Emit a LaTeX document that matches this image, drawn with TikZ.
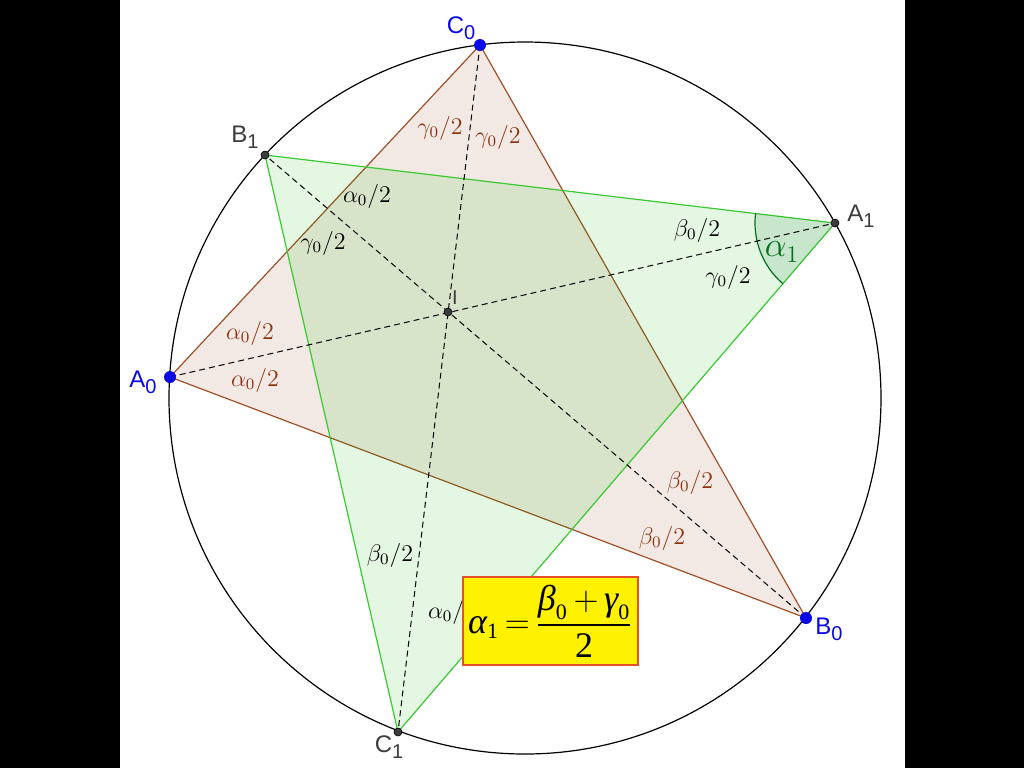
\documentclass[tikz,border=0pt]{standalone}
\usepackage{amsmath}
\usepackage{fontspec}
\setsansfont{Liberation Sans}
\newfontfamily\eqfont{Liberation Serif}
\usepackage{xcolor}
\usepackage{tikz}
\usetikzlibrary{angles}

\definecolor{brownedge}{RGB}{160,80,40}
\definecolor{brownlab}{RGB}{140,50,15}
\definecolor{greenedge}{RGB}{60,200,50}
\definecolor{greenfill}{RGB}{0,190,0}
\definecolor{anglegreen}{RGB}{0,110,30}
\definecolor{ptblue}{RGB}{10,10,230}
\definecolor{ptgray}{RGB}{60,60,60}
\definecolor{boxred}{RGB}{230,80,40}

\tikzset{
  bluept/.style={circle,fill=ptblue,inner sep=0pt,minimum size=6pt},
  graypt/.style={circle,fill=ptgray,draw=black,line width=0.3pt,inner sep=0pt,minimum size=4pt},
  vlab/.style={font=\sffamily\fontsize{12}{14}\selectfont},
  anglab/.style={font=\fontsize{12}{14}\selectfont},
  edge/.style={line width=0.6pt},
  bisector/.style={dash pattern=on 3pt off 2pt,line width=0.5pt},
}
\newcommand{\vsub}[1]{\raisebox{-0.5ex}{\fontsize{10}{12}\selectfont #1}}
\newcommand{\eqit}[1]{\mbox{\eqfont\itshape\fontsize{18}{20}\selectfont #1}}
\newcommand{\eqsub}[1]{\mbox{\eqfont\fontsize{11}{12}\selectfont #1}}

\begin{document}
\begin{tikzpicture}[x=0.5pt,y=-0.5pt]
    \useasboundingbox (0,0) rectangle (1024,768);
    \fill[white] (0,0) rectangle (1024,768);
    \fill[black] (0,0) rectangle (120,768);
    \fill[black] (905,0) rectangle (1024,768);
    % points on the circle
    \coordinate (O) at (525,398);
    \coordinate (A0) at (170,377);
    \coordinate (B0) at (806,618);
    \coordinate (C0) at (480,45);
    \coordinate (A1) at (835,223);
    \coordinate (B1) at (265,155);
    \coordinate (C1) at (398,732);
    \coordinate (I) at (448,312);
    \draw[line width=0.6pt] (O) circle[radius=356];
    % the two triangles
    \filldraw[edge,draw=brownedge,fill=brownedge,fill opacity=0.12] (A0) -- (B0) -- (C0) -- cycle;
    \filldraw[edge,draw=greenedge,fill=greenfill,fill opacity=0.11] (A1) -- (B1) -- (C1) -- cycle;
    \pic[draw=anglegreen,fill=anglegreen,fill opacity=0.12,line width=0.6pt,angle radius=40pt] {angle=B1--A1--C1};
    \draw[bisector] (A0) -- (A1);
    \draw[bisector] (B0) -- (B1);
    \draw[bisector] (C0) -- (C1);
    % angle labels
    \node[anglab,text=brownlab] (gC0a) at (440,128) {$\gamma_0/2$};
    \node[anglab,text=brownlab] (gC0b) at (498,137) {$\gamma_0/2$};
    \node[anglab,text=brownlab] (aA0a) at (250,333) {$\alpha_0/2$};
    \node[anglab,text=brownlab] (aA0b) at (255,380) {$\alpha_0/2$};
    \node[anglab,text=brownlab] (bB0a) at (690,482) {$\beta_0/2$};
    \node[anglab,text=brownlab] (bB0b) at (662,538) {$\beta_0/2$};
    \node[anglab] (aB1) at (367,196) {$\alpha_0/2$};
    \node[anglab] (gB1) at (323,243) {$\gamma_0/2$};
    \node[anglab] (bA1) at (697,230) {$\beta_0/2$};
    \node[anglab] (gA1) at (728,277) {$\gamma_0/2$};
    \node[anglab] (bC1) at (390,555) {$\beta_0/2$};
    \node[anglab] (aC1) at (452,612) {$\alpha_0/2$};
    \node[font=\fontsize{17}{19}\selectfont,text=anglegreen] (alpha1) at (782,252) {$\alpha_1$};
    % formula
    \node[draw=boxred,fill=yellow,line width=0.8pt,minimum width=87.5pt,minimum height=44pt,inner sep=0pt] (eq) at (550.5,621)
      {\fontsize{18}{20}\selectfont \thickmuskip=3mu \medmuskip=3mu
       $\eqit{α}_{\eqsub{1}}=\dfrac{\eqit{β}_{\eqsub{0}}+\eqit{γ}_{\eqsub{0}}}{\mbox{\eqfont\fontsize{18}{20}\selectfont 2}}$};
    % vertices
    \node[bluept] (pA0) at (A0) {};
    \node[bluept] (pB0) at (B0) {};
    \node[bluept] (pC0) at (C0) {};
    \node[graypt] (pA1) at (A1) {};
    \node[graypt] (pB1) at (B1) {};
    \node[graypt] (pC1) at (C1) {};
    \node[graypt] (pI) at (I) {};
    \node[vlab,text=ptblue] (lA0) at (143,382) {A\vsub{0}};
    \node[vlab,text=ptblue] (lB0) at (829,629) {B\vsub{0}};
    \node[vlab,text=ptblue] (lC0) at (461,28) {C\vsub{0}};
    \node[vlab,text=ptgray] (lA1) at (861,216) {A\vsub{1}};
    \node[vlab,text=ptgray] (lB1) at (245,137) {B\vsub{1}};
    \node[vlab,text=ptgray] (lC1) at (389,747) {C\vsub{1}};
    \node[vlab,text=ptgray,font=\sffamily\fontsize{10}{12}\selectfont] (lI) at (455,298) {I};
\end{tikzpicture}
\end{document}
